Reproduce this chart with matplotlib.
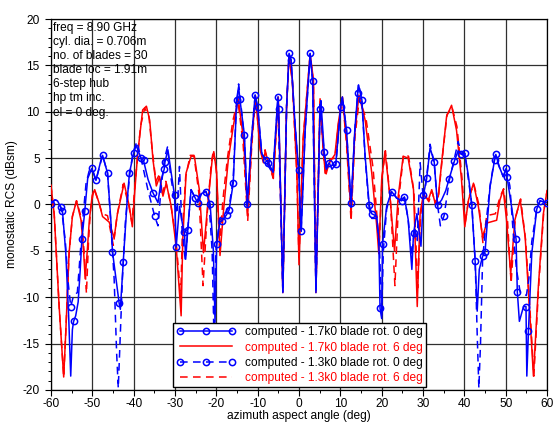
import numpy as np
import matplotlib
matplotlib.use("Agg")
import matplotlib.pyplot as plt
from matplotlib.lines import Line2D
from matplotlib.ticker import MultipleLocator

plt.rcParams['font.family'] = ['Liberation Sans', 'DejaVu Sans']
plt.rcParams['axes.unicode_minus'] = False

# ---- data (azimuth deg, RCS dBsm) ----
# computed - 1.7k0 blade rot. 0 deg (blue, solid, circles)
b17_x = [-60.0, -59.0, -58.4, -57.6, -57.2, -56.4, -55.7, -55.2, -54.8, -54.5,
         -54.0, -53.4, -52.9, -52.5, -51.8, -51.1, -50.1, -49.1, -47.9, -47.5,
         -46.3, -45.5, -45.1, -43.5, -43.2, -42.5, -41.6, -41.0, -40.0, -39.4,
         -38.2, -37.6, -36.5, -35.3, -34.1, -33.3, -32.6, -32.4, -31.7, -30.9,
         -30.1, -29.7, -28.9, -28.1, -27.7, -27.4, -26.9, -26.1, -25.1, -24.5,
         -23.5, -22.5, -21.5, -20.7, -20.3, -19.9, -19.1, -18.7, -17.5, -16.9,
         -15.9, -15.3, -15.1, -14.6, -14.3, -13.2, -12.5, -11.5, -10.6, -10.0,
         -9.0, -8.0, -7.4, -6.3, -5.1, -4.9, -3.9, -3.0, -2.4, -1.9,
         -1.0, -0.1, 0.55, 1.5, 2.7, 3.3, 4.1, 5.1, 5.3, 6.1,
         6.6, 7.3, 8.0, 8.9, 10.1, 10.5, 11.5, 12.6, 13.5, 14.2,
         14.4, 15.2, 16.0, 17.0, 17.6, 18.8, 19.3, 19.6, 20.0, 20.2,
         21.2, 22.4, 23.6, 24.8, 25.5, 26.4, 27.3, 27.7, 28.5, 29.5,
         30.1, 30.9, 31.7, 32.7, 33.5, 34.5, 35.5, 36.3, 37.6, 38.5,
         39.3, 40.1, 41.0, 41.8, 42.6, 43.1, 43.6, 44.4, 45.0, 46.2,
         47.3, 47.6, 48.5, 49.4, 50.1, 50.3, 51.5, 52.5, 52.8, 53.3,
         54.3, 54.9, 55.1, 55.5, 56.3, 57.5, 58.3, 59.0, 60.0]
b17_y = [0.1, 0.5, 0.4, -0.3, -0.7, -5.2, -12.0, -18.5, -13.5, -12.6,
         -12.0, -10.5, -7.0, -3.75, -0.7, 2.8, 3.9, 2.6, 4.75, 5.3,
         3.4, -1.7, -5.1, -10.6, -11.3, -6.2, 0.1, 3.4, 5.5, 6.4,
         5.0, 4.75, 2.7, 1.25, 0.2, 2.7, 3.8, 4.6, 5.9, 3.4,
         1.0, -4.6, -0.2, -2.3, -3.0, -5.9, -2.75, 1.6, 0.7, 0.2,
         1.2, 1.4, 0.1, -5.0, -12.7, -4.3, -1.8, -1.8, -1.1, -0.6,
         2.3, 8.75, 11.25, 12.7, 11.4, 7.5, 0.1, 7.0, 11.8, 10.5,
         5.5, 4.8, 4.5, 3.5, 11.6, 10.3, -9.5, 10.5, 16.3, 15.6,
         9.0, 3.75, -2.9, 8.0, 16.3, 13.3, -9.5, 10.3, 11.2, 5.7,
         4.0, 4.5, 3.8, 4.4, 10.5, 11.6, 8.0, 0.2, 8.0, 12.0,
         12.9, 11.3, 5.2, -0.1, -1.0, -1.25, -3.75, -11.2, -12.3, -4.3,
         -0.2, 1.4, 0.7, 0.4, 0.8, -1.6, -7.0, -3.1, -1.0, -4.5,
         1.0, 2.9, 6.1, 4.6, -0.1, 0.5, 1.5, 2.75, 4.7, 5.8,
         5.4, 5.5, 3.0, -0.1, -6.1, -11.5, -7.0, -5.6, -5.1, 1.9,
         4.8, 5.4, 4.0, 3.0, 3.9, 3.0, -0.5, -3.75, -9.4, -12.6,
         -11.0, -11.0, -18.5, -13.6, -5.25, -0.5, 0.4, 0.3, 0.2]
b17_marks = [-60.0, -57.6, -57.2, -54.5, -52.5, -51.8, -50.1, -49.1, -47.5, -46.3,
             -45.1, -43.5, -42.5, -41.0, -40.0, -38.2, -37.6, -35.3, -32.6, -32.4,
             -30.1, -29.7, -27.7, -26.9, -25.1, -24.5, -22.5, -21.5, -19.9, -18.7,
             -17.5, -16.9, -15.9, -15.1, -14.3, -13.2, -12.5, -10.6, -10.0, -8.0,
             -7.4, -5.1, -4.9, -2.4, -1.9, -0.1, 0.55, 2.7, 3.3, 5.1,
             6.1, 7.3, 8.9, 10.1, 11.5, 12.6, 14.2, 15.2, 17.0, 17.6,
             19.6, 20.2, 22.4, 24.8, 25.5, 27.7, 30.1, 30.9, 32.7, 33.5,
             36.3, 37.6, 39.3, 40.1, 41.8, 42.6, 44.4, 45.0, 47.3, 47.6,
             50.1, 50.3, 52.5, 52.8, 54.9, 55.5, 57.5, 58.3, 60.0]

# computed - 1.7k0 blade rot. 6 deg (red, solid)
r17_x = [-60.0, -59.2, -58.0, -56.9, -56.4, -55.6, -54.8, -53.8, -52.7, -52.1,
         -51.7, -51.2, -50.7, -50.0, -49.4, -48.3, -47.5, -45.9, -44.7, -43.9,
         -42.3, -41.0, -40.3, -39.7, -39.0, -37.8, -36.9, -36.1, -35.3, -34.5,
         -33.7, -32.9, -32.1, -30.9, -29.7, -28.5, -28.1, -27.3, -26.1, -25.3,
         -24.1, -23.1, -22.1, -21.0, -20.6, -19.9, -19.1, -18.3, -17.1, -15.9,
         -14.7, -13.4, -12.4, -11.4, -10.5, -9.4, -8.6, -8.2, -7.4, -6.2,
         -5.0, -3.9, -3.0, -2.4, -1.6, -0.5, 0.0, 1.0, 2.7, 3.5,
         4.1, 5.1, 5.9, 6.4, 7.5, 8.7, 9.5, 10.5, 11.5, 12.6,
         13.5, 14.5, 16.0, 17.6, 18.8, 19.3, 20.0, 20.8, 22.0, 23.1,
         24.0, 25.2, 26.4, 27.7, 28.6, 29.3, 30.1, 31.3, 32.1, 32.9,
         33.7, 34.5, 35.7, 36.9, 38.1, 39.3, 40.1, 41.0, 42.2, 43.4,
         44.4, 45.4, 47.8, 48.6, 49.4, 50.2, 51.2, 52.2, 53.5, 54.7,
         55.9, 56.7, 57.9, 59.1, 60.0]
r17_y = [2.1, -1.0, -11.0, -18.6, -13.8, -5.25, -1.3, 0.4, -1.7, -5.0,
         -8.0, -5.0, -1.7, 1.0, 1.6, 0.1, -1.3, -1.9, -3.6, -1.0,
         2.3, -0.25, -2.4, 1.5, 5.5, 10.2, 10.6, 9.1, 4.8, 2.0,
         3.0, 0.9, 2.3, -0.2, -4.5, -12.0, -3.75, 3.4, 5.2, 5.2,
         1.6, -5.2, -0.2, 4.8, 5.7, 3.4, -5.5, -0.9, 4.8, 8.4,
         11.4, 7.0, -1.1, 7.0, 11.7, 5.9, 4.5, 5.7, 4.6, 3.0,
         11.6, -9.5, 10.5, 16.1, 13.4, 3.4, -6.5, 7.0, 16.25, 13.4,
         -9.5, 11.4, 5.5, 3.4, 4.6, 5.4, 8.75, 11.6, 7.0, -1.1,
         7.7, 11.8, 9.1, 3.4, -2.3, -5.3, 2.7, 5.7, 0.9, -5.0,
         0.9, 5.2, 5.0, 1.6, -11.0, -0.9, 1.1, 0.5, 1.6, 0.2,
         0.9, 4.5, 9.5, 10.7, 8.0, 2.7, -2.4, 0.5, 2.3, -0.25,
         -3.5, -2.0, -1.7, 0.5, 1.6, -1.7, -7.5, -1.7, 0.5, -3.5,
         -12.4, -18.5, -8.8, -1.0, 1.5]

# computed - 1.3k0 blade rot. 0 deg (blue, dashed, circles)
b13_x = [-60.0, -59.0, -58.4, -57.4, -56.5, -55.8, -55.2, -54.5, -53.6, -52.9,
         -52.3, -51.5, -50.7, -49.8, -49.1, -47.5, -46.3, -45.5, -44.7, -44.1,
         -43.7, -43.3, -42.7, -42.0, -41.0, -40.2, -39.2, -38.2, -36.5, -34.9,
         -34.1, -33.3, -32.5, -31.8, -31.0, -30.1, -29.5, -28.9, -28.3, -27.5,
         -26.9, -26.1, -25.1, -24.5, -23.5, -22.5, -21.8, -21.0, -20.6, -20.1,
         -19.2, -18.0, -16.9, -15.9, -15.3, -14.6, -14.2, -13.2, -12.5, -11.5,
         -10.6, -10.0, -9.0, -8.0, -7.2, -6.3, -5.1, -3.9, -3.0, -2.4,
         -1.9, -1.0, -0.1, 0.5, 1.5, 2.7, 3.3, 4.1, 5.1, 6.1,
         6.6, 7.3, 8.9, 10.1, 10.5, 11.5, 12.6, 13.5, 14.4, 15.2,
         16.0, 17.0, 17.6, 18.8, 19.5, 20.0, 20.4, 21.2, 22.4, 23.6,
         24.8, 25.5, 26.4, 27.3, 28.0, 28.6, 29.3, 30.1, 30.9, 31.7,
         32.7, 33.5, 34.2, 35.1, 36.3, 37.6, 38.5, 39.3, 40.1, 41.8,
         42.6, 43.1, 43.5, 43.9, 44.4, 45.0, 46.2, 47.4, 48.5, 49.4,
         50.1, 51.0, 51.8, 52.6, 53.5, 55.0, 55.6, 56.3, 57.5, 58.3,
         60.0]
b13_y = [0.1, 0.5, 0.4, -0.5, -4.0, -8.5, -11.0, -9.8, -9.5, -5.25,
         -1.7, 2.25, 3.7, 3.6, 2.6, 5.3, 3.4, -2.0, -8.0, -16.0,
         -19.8, -15.0, -8.0, -2.0, 3.0, 5.5, 6.8, 5.0, 1.5, -1.25,
         -2.3, 2.0, 5.0, 6.2, 3.0, 0.5, -1.0, 4.1, -2.5, -6.0,
         -2.75, 1.6, 0.7, 0.5, 1.5, 1.4, 0.5, -5.0, -13.5, -5.0,
         -1.5, -1.0, -0.3, 2.8, 9.0, 13.0, 11.5, 7.0, -0.5, 7.0,
         11.8, 10.5, 5.5, 4.6, 4.0, 3.3, 11.4, -9.5, 10.5, 16.2,
         15.5, 9.0, 3.5, -3.0, 8.0, 16.2, 13.3, -9.5, 10.8, 5.5,
         3.8, 4.3, 4.2, 10.5, 11.6, 8.0, -0.3, 8.0, 13.0, 11.3,
         5.0, -0.5, -1.5, -1.5, -5.0, -12.0, -5.0, -0.5, 1.5, 0.7,
         0.4, 0.8, -1.6, -5.5, -2.5, -4.0, 4.5, 0.5, 3.0, 6.5,
         4.5, 0.0, -2.3, -1.2, 2.5, 5.0, 6.8, 5.4, 5.5, 0.0,
         -6.0, -14.0, -19.8, -15.0, -6.0, -3.0, 2.0, 5.2, 4.0, 3.0,
         3.9, 2.0, -3.0, -7.0, -9.5, -9.8, -8.0, -4.0, -0.5, 0.4,
         0.2]
b13_marks = [-55.2, -34.9, 35.1]

# computed - 1.3k0 blade rot. 6 deg (red, dashed)
r13_x = [-60.0, -59.2, -58.0, -56.9, -56.4, -55.6, -54.8, -53.8, -52.6, -51.9,
         -51.4, -50.9, -50.4, -49.6, -48.6, -47.6, -46.3, -44.9, -44.0, -42.5,
         -41.2, -40.4, -39.5, -38.3, -37.3, -36.3, -35.4, -34.6, -33.8, -33.0,
         -32.2, -31.0, -29.8, -28.6, -28.2, -27.4, -26.3, -25.4, -24.2, -23.2,
         -22.2, -21.2, -20.7, -20.0, -19.2, -18.4, -17.3, -16.0, -14.8, -13.5,
         -12.4, -11.4, -10.5, -9.4, -8.6, -8.2, -7.4, -6.2, -5.0, -3.9,
         -3.0, -2.4, -1.6, -0.5, 0.0, 1.0, 2.7, 3.5, 4.1, 5.1,
         5.9, 6.4, 7.5, 8.7, 9.5, 10.5, 11.5, 12.6, 13.5, 14.6,
         16.2, 17.9, 19.0, 19.4, 20.1, 20.9, 22.1, 23.2, 24.1, 25.3,
         26.5, 27.8, 28.7, 29.4, 30.2, 31.4, 32.2, 33.0, 33.8, 34.6,
         35.8, 37.0, 38.2, 39.4, 40.2, 41.1, 42.3, 43.5, 44.5, 45.4,
         47.5, 48.6, 49.5, 50.4, 51.3, 52.3, 53.6, 54.8, 56.0, 56.8,
         58.0, 59.2, 60.0]
r13_y = [2.1, -1.0, -11.0, -18.6, -13.8, -5.25, -1.3, 0.4, -1.5, -5.5,
         -9.6, -4.0, -0.5, 1.7, 0.5, -1.0, -1.2, -4.4, -1.2, 2.2,
         0.0, -2.0, 3.0, 8.5, 10.4, 9.5, 5.5, 2.5, 3.2, 1.2,
         2.5, 0.0, -3.5, -10.0, -3.0, 3.0, 5.3, 5.3, 1.2, -8.75,
         -1.0, 4.5, 5.8, 3.8, -4.5, 0.5, 5.0, 9.0, 11.3, 6.5,
         -1.8, 6.5, 11.5, 6.2, 4.8, 5.9, 4.4, 2.8, 11.4, -9.0,
         10.5, 16.0, 13.2, 3.0, -6.0, 7.0, 16.1, 13.2, -9.0, 11.2,
         5.8, 3.0, 4.9, 5.0, 8.5, 11.5, 6.5, -1.8, 7.2, 11.4,
         9.3, 4.0, -2.0, -4.5, 3.0, 5.8, 0.5, -8.75, 0.5, 5.4,
         5.2, 1.4, -9.0, -1.2, 1.2, 0.3, 1.4, 0.0, 1.1, 4.8,
         9.7, 10.5, 8.4, 3.0, -2.0, 0.8, 2.2, 0.0, -4.2, -1.2,
         -1.0, 0.8, 1.7, -1.5, -8.5, -1.5, 0.6, -3.8, -12.4, -18.5,
         -8.5, -0.8, 1.5]

labels = ['computed - 1.7k0 blade rot. 0 deg',
          'computed - 1.7k0 blade rot. 6 deg',
          'computed - 1.3k0 blade rot. 0 deg',
          'computed - 1.3k0 blade rot. 6 deg']

info = ['freq = 8.90 GHz', 'cyl. dia. = 0.706m', 'no. of blades = 30',
        'blade loc = 1.91m', '6-step hub', 'hp tm inc.', 'el = 0 deg.']

BLUE = '#0000ff'
RED = '#ff0000'
FS = 8.6
DASH = (5, 3.5)
LW = 1.1
MS = 4.5


def mark_idx(xs, marks):
    return [xs.index(m) for m in marks]


fig = plt.figure(figsize=(5.53, 4.28), dpi=100)
ax = fig.add_axes([0.092, 0.0888, 0.8973, 0.8668])

ax.plot(b17_x, b17_y, color=BLUE, lw=LW, marker='o', mfc='none', mec=BLUE,
        ms=MS, mew=1.1, markevery=mark_idx(b17_x, b17_marks), zorder=4)
ax.plot(r17_x, r17_y, color=RED, lw=LW, zorder=3)
ax.plot(b13_x, b13_y, color=BLUE, lw=LW, dashes=DASH, marker='o', mfc='none',
        mec=BLUE, ms=MS, mew=1.1, markevery=mark_idx(b13_x, b13_marks), zorder=4)
ax.plot(r13_x, r13_y, color=RED, lw=LW, dashes=DASH, zorder=3)

ax.set_xlim(-60, 60)
ax.set_ylim(-20, 20)
ax.xaxis.set_major_locator(MultipleLocator(10))
ax.xaxis.set_minor_locator(MultipleLocator(5))
ax.yaxis.set_major_locator(MultipleLocator(5))
ax.yaxis.set_minor_locator(MultipleLocator(1))
ax.tick_params(which='major', direction='out', length=4, width=0.8,
               labelsize=FS, pad=2)
ax.tick_params(which='minor', direction='out', length=2.5, width=0.7)
ax.tick_params(axis='y', which='major', pad=4)
ax.grid(True, which='major', color='#303030', lw=0.9)
for s in ax.spines.values():
    s.set_linewidth(0.9)

ax.set_xlabel('azimuth aspect angle (deg)', fontsize=FS, labelpad=0)
ax.set_ylabel('monostatic RCS (dBsm)', fontsize=FS, labelpad=3)

ax.text(0.005, 0.993, '\n'.join(info), transform=ax.transAxes, ha='left',
        va='top', fontsize=FS, linespacing=1.24, zorder=5)

handles = [
    Line2D([], [], color=BLUE, lw=LW, marker='o', mfc='none', mec=BLUE, ms=MS, mew=1.1),
    Line2D([], [], color=RED, lw=LW),
    Line2D([], [], color=BLUE, lw=LW, dashes=DASH, marker='o', mfc='none', mec=BLUE, ms=MS, mew=1.1),
    Line2D([], [], color=RED, lw=LW, dashes=DASH),
]
leg = ax.legend(handles, labels, loc='lower left', bbox_to_anchor=(0.2467, 0.0073),
                borderaxespad=0, fontsize=FS, numpoints=3, handlelength=5.0,
                handletextpad=0.75, borderpad=0.25, labelspacing=0.28,
                fancybox=False, framealpha=1, edgecolor='black')
leg.get_frame().set_linewidth(1.0)
leg.set_zorder(6)
for t, c in zip(leg.get_texts(), ['black', RED, 'black', RED]):
    t.set_color(c)

fig.savefig('out.png', dpi=100)
